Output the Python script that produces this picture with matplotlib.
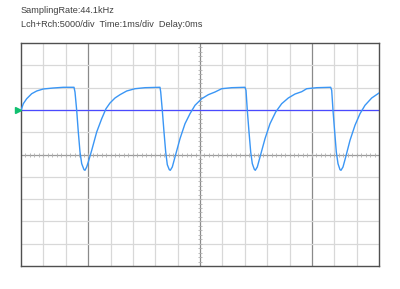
import numpy as np
import matplotlib
matplotlib.use("Agg")
import matplotlib.pyplot as plt

plt.rcParams['font.family'] = ['Liberation Sans', 'DejaVu Sans']

# waveform: time in ms, amplitude in sample units
time_ms = [
    0.000, 0.103, 0.255, 0.478, 0.702, 0.997, 1.444, 1.891, 2.369,
    2.413, 2.489, 2.561, 2.637, 2.713, 2.816, 2.860, 2.936, 3.008, 3.160,
    3.383, 3.607, 3.799, 3.978, 4.201, 4.425, 4.724, 5.095, 5.542, 6.212,
    6.244, 6.315, 6.391, 6.467, 6.539, 6.628, 6.673, 6.762, 6.883, 7.106,
    7.330, 7.553, 7.777, 8.076, 8.371, 8.670, 8.970, 9.417, 10.011,
    10.056, 10.114, 10.190, 10.266, 10.338, 10.427, 10.472, 10.561, 10.682,
    10.905, 11.129, 11.383, 11.651, 11.946, 12.246, 12.545, 12.769, 13.216,
    13.841, 13.886, 13.944, 14.020, 14.092, 14.168, 14.257, 14.302, 14.391,
    14.512, 14.704, 14.927, 15.151, 15.374, 15.674, 16.000,
]
amplitude = [
    9910, 11390, 12510, 13630, 14240, 14690, 14910, 15070, 15070,
    14010, 9910, 5040, 560, -2060, -3410, -3540, -2800, -1680, 940,
    5040, 8030, 10270, 11550, 12670, 13410, 14240, 14750, 14980, 15070,
    14010, 9910, 5040, 560, -2290, -3410, -3540, -2800, -560, 3540,
    6910, 9150, 11030, 12510, 13410, 14010, 14750, 14980, 15070,
    14390, 9910, 5040, 560, -2060, -3320, -3540, -2800, -560,
    3540, 6910, 9530, 11390, 12670, 13560, 14080, 14750, 14980,
    15070, 14390, 9910, 5040, 560, -2060, -3410, -3540, -2800,
    -560, 3180, 6550, 9150, 11030, 12670, 13790,
]

trigger_level = 10000
volts_per_div = 5000
n_xdiv = 16
n_ydiv = 10
dark_x = [3, 8, 13]

header1 = "SamplingRate:44.1kHz"
header2 = "Lch+Rch:5000/div  Time:1ms/div  Delay:0ms"

fig = plt.figure(figsize=(4, 2.89), dpi=100)
ax = fig.add_axes([21 / 400, 23 / 289, 358 / 400, 223 / 289])

ymax = volts_per_div * n_ydiv / 2
ax.set_xlim(0, n_xdiv)
ax.set_ylim(-ymax, ymax)

# grid
for i in range(1, n_xdiv):
    c = '#8a8a8a' if i in dark_x else '#d8d8d8'
    ax.axvline(i, color=c, lw=0.9, zorder=1)
for j in range(1, n_ydiv):
    yv = -ymax + j * volts_per_div
    c = '#9a9a9a' if yv == 0 else '#d8d8d8'
    ax.axhline(yv, color=c, lw=0.9, zorder=1)

# small marks on the centre lines
tx = np.arange(0, n_xdiv, 0.2)
ax.plot(tx, np.zeros_like(tx), ls='none', marker='|', ms=3.5, mew=0.6, color='#b0b0b0', zorder=1.5)
ty = np.arange(-ymax, ymax, volts_per_div * 0.2)
ax.plot(np.full_like(ty, n_xdiv / 2), ty, ls='none', marker='_', ms=3.5, mew=0.6, color='#b0b0b0', zorder=1.5)

ax.axhline(trigger_level, color='#4a4aff', lw=0.9, zorder=2)
ax.plot(time_ms, amplitude, color='#3a96f5', lw=1.0, zorder=3)

# level marker left of the screen
ax.plot([-0.13], [trigger_level], marker='>', ms=5, color='#10c070', clip_on=False, zorder=4)

ax.set_xticks([])
ax.set_yticks([])
for s in ax.spines.values():
    s.set_color('#505050')
    s.set_linewidth(1.0)

fig.text(21 / 400, 1 - 10.5 / 289, header1, fontsize=6.55, color='#404040', va='center', ha='left')
fig.text(21 / 400, 1 - 24.5 / 289, header2, fontsize=6.55, color='#404040', va='center', ha='left')

fig.savefig('out.png', dpi=100)
